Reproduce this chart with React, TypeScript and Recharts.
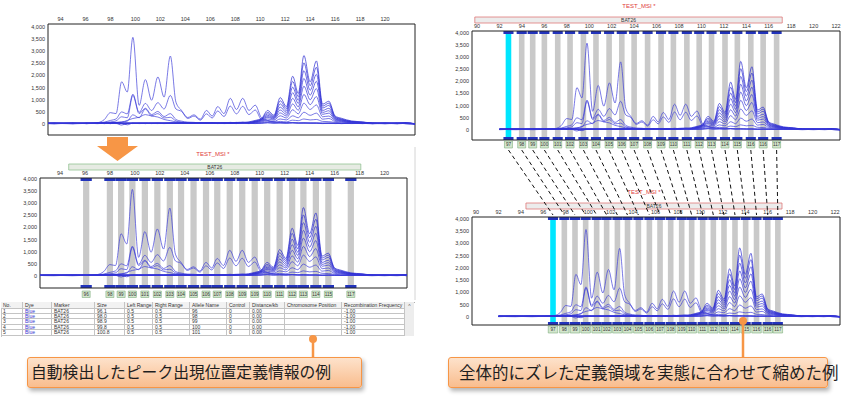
import React from "react";
import { LineChart, Line, XAxis, YAxis, ReferenceArea } from "recharts";

// fragment size (bp) of every sample point of the traces
const sizes = [92, 93.5, 95, 96.1, 97, 97.5, 98, 98.45, 98.9, 99.35, 99.8, 100.3, 100.8, 101.3, 101.8, 102.3, 102.8, 103.25, 103.7, 104.2, 104.7, 105.2, 105.7, 106.15, 106.6, 107.1, 107.6, 108.1, 108.6, 109.1, 109.6, 110.1, 110.6, 111.1, 111.6, 112.1, 112.6, 113.05, 113.5, 114, 114.5, 115, 115.5, 116, 116.5, 117.3, 118.2, 119, 120, 121, 121.6, 122.5];

// left group of samples (stutter around 99-103)
const traceA = [30, 10, 40, 20, 60, 180, 470, 430, 1740, 1320, 3570, 770, 1830, 980, 1940, 1110, 2800, 900, 560, 270, 380, 200, 560, 330, 720, 430, 1060, 600, 1060, 560, 780, 260, 150, 90, 70, 60, 50, 40, 60, 40, 50, 40, 30, 30, 40, 20, 30, 10, 30, 20, 60, -20];
const traceB = [20, 40, 30, 40, 50, 80, 150, 210, 500, 420, 1230, 480, 850, 560, 880, 620, 1180, 620, 520, 230, 330, 160, 420, 250, 540, 310, 740, 420, 730, 390, 580, 180, 120, 80, 60, 50, 60, 40, 50, 30, 40, 30, 40, 20, 30, 40, 20, 30, 10, 40, 50, 0];
const traceC = [10, 30, 20, 30, 40, 60, 90, 130, 300, 260, 1180, 430, 650, 390, 520, 310, 430, 190, 120, 80, 70, 50, 60, 40, 50, 30, 40, 30, 50, 40, 30, 40, 50, 30, 40, 30, 50, 40, 30, 40, 30, 20, 30, 40, 20, 30, 40, 20, 30, 10, 30, 10];
const traceD = [40, 20, 30, 20, 30, 40, 60, 70, 90, 120, 380, 260, 620, 340, 430, 250, 280, 130, 80, 60, 40, 50, 30, 40, 20, 40, 30, 40, 30, 20, 40, 30, 60, 40, 50, 40, 60, 50, 40, 50, 40, 30, 40, 30, 20, 30, 20, 40, 20, 30, 40, 20];
const traceE = [20, 30, 10, 30, 20, 30, 50, 60, 80, 150, 230, 280, 390, 330, 290, 190, 140, 90, 70, 50, 40, 30, 40, 30, 40, 20, 30, 20, 40, 30, 20, 50, 80, 70, 110, 90, 160, 140, 210, 170, 190, 110, 100, 70, 50, 40, 30, 20, 40, 30, 20, 0];

// right group of samples (peaks around 111-115)
const traceR1 = [40, 30, 50, 20, 40, 30, 50, 30, -40, 20, 30, 40, 20, 40, 30, 40, 50, 30, 40, 30, 50, 40, 30, 50, 40, 60, 50, 70, 60, 90, 150, 230, 560, 360, 1090, 720, 1970, 1260, 2820, 1740, 2600, 820, 940, 330, 240, 130, 90, 40, 30, 50, 20, 0];
const traceR2 = [20, 50, 30, 40, 30, 40, 20, 50, 30, -30, 40, 30, 50, 30, 40, 30, 40, 50, 30, 50, 30, 50, 40, 60, 30, 50, 40, 60, 80, 70, 130, 210, 480, 320, 960, 640, 1760, 1120, 2520, 1580, 2340, 740, 860, 300, 210, 110, 70, 50, 40, 30, 50, 10];
const traceR3 = [30, 40, 20, 50, 40, 20, 40, 60, 30, 40, 20, 50, 40, 30, 50, 40, 30, 40, 50, 40, 40, 30, 50, 40, 50, 40, 70, 50, 60, 60, 110, 190, 420, 290, 830, 560, 1520, 980, 2200, 1390, 2050, 660, 770, 270, 190, 100, 80, 30, 50, 40, 30, 20];
const traceR4 = [50, 20, 40, 30, 20, 50, 30, 40, 50, 30, 40, 20, 30, 50, 40, 50, 40, 30, 40, 30, 30, 40, 50, 30, 40, 50, 30, 40, 70, 50, 100, 170, 360, 260, 700, 480, 1290, 850, 1880, 1190, 1760, 560, 650, 240, 170, 90, 60, 40, 30, 20, 40, 10];
const traceR5 = [30, 30, 40, 40, 30, 40, 40, 20, 30, 50, 30, 30, 40, 20, 40, 30, 50, 40, 30, 50, 40, 50, 30, 40, 30, 40, 50, 60, 40, 70, 90, 150, 310, 230, 580, 400, 1060, 710, 1560, 1000, 1460, 480, 550, 210, 150, 80, 50, 30, 40, 30, 30, 20];
const traceR6 = [40, 20, 30, 30, 50, 30, 20, 40, 40, 20, 50, 40, 30, 40, 30, 20, 30, 40, 50, 30, 40, 30, 40, 50, 40, 30, 40, 50, 50, 60, 80, 130, 270, 200, 460, 330, 830, 570, 1220, 800, 1130, 400, 450, 180, 130, 70, 60, 40, 20, 40, 20, 0];
const traceR7 = [20, 40, 40, 20, 30, 30, 50, 30, 20, 40, 40, 30, 50, 30, 20, 40, 30, 30, 40, 50, 30, 40, 40, 30, 50, 40, 40, 30, 60, 40, 70, 100, 210, 160, 340, 250, 590, 420, 860, 600, 790, 300, 330, 150, 110, 60, 50, 30, 30, 20, 40, 10];
const traceR8 = [30, 30, 20, 40, 40, 20, 30, 40, 40, 30, 30, 40, 20, 40, 40, 30, 40, 50, 30, 40, 50, 30, 40, 40, 30, 50, 40, 40, 50, 50, 60, 80, 140, 110, 210, 170, 340, 260, 490, 360, 450, 200, 230, 110, 90, 50, 40, 20, 40, 30, 20, 10];

const leftTicks = [94, 96, 98, 100, 102, 104, 106, 108, 110, 112, 114, 116, 118, 120];
const rightTicks = [90, 92, 94, 96, 98, 100, 102, 104, 106, 108, 110, 112, 114, 116, 118, 120, 122];
const yTicks = [0, 500, 1000, 1500, 2000, 2500, 3000, 3500, 4000];

// automatically detected bins (middle left)
const autoBins = [96.1, 98.0, 98.9, 99.8, 100.8, 101.8, 102.8, 103.7, 104.7, 105.7, 106.6, 107.6, 108.6, 109.6, 110.6, 111.6, 112.6, 113.5, 114.5, 115.5, 117.3];
const autoLabels = ["96", "98", "99", "100", "101", "102", "103", "104", "105", "106", "107", "108", "109", "109", "110", "111", "112", "113", "114", "115", "117"];

// shifted bins (top right) and shrunk bins (bottom right); the first one is the highlighted bin
const shiftedBins = [92.8, 93.98, 94.96, 96.0, 97.19, 98.29, 99.48, 100.6, 101.77, 102.9, 104.0, 105.2, 106.4, 107.5, 108.7, 109.8, 110.9, 112.1, 113.2, 114.4, 115.5, 116.7];
const fittedBins = [96.86, 97.87, 98.82, 99.77, 100.75, 101.64, 102.6, 103.5, 104.47, 105.45, 106.4, 107.35, 108.33, 109.22, 110.2, 111.15, 112.1, 113.08, 114.03, 115.0, 116.0, 116.9];
const binLabels = ["97", "98", "99", "100", "101", "102", "103", "104", "105", "106", "107", "108", "109", "110", "111", "112", "113", "114", "115", "116", "116", "117"];

const tableHeaders = ["No.", "Dye", "Marker", "Size", "Left Range", "Right Range", "Allele Name", "Control", "Distance/kb", "Chromosome Position", "Recombination Frequency"];
const tableNo = ["1", "2", "3", "4", "5"];
const tableSize = ["96.1", "98.0", "98.9", "99.8", "100.8"];
const tableAllele = ["96", "98", "99", "100", "101"];

const traces = [
  { key: "a", values: traceA, color: "#3a3ad8" },
  { key: "b", values: traceB, color: "#3a3ad8" },
  { key: "c", values: traceC, color: "#3a3ad8" },
  { key: "d", values: traceD, color: "#3a3ad8" },
  { key: "e", values: traceE, color: "#3a3ad8" },
  { key: "r1", values: traceR1, color: "#2222d0" },
  { key: "r2", values: traceR2, color: "#2222d0" },
  { key: "r3", values: traceR3, color: "#2a2ad4" },
  { key: "r4", values: traceR4, color: "#2a2ad4" },
  { key: "r5", values: traceR5, color: "#3030d6" },
  { key: "r6", values: traceR6, color: "#3030d6" },
  { key: "r7", values: traceR7, color: "#3838d8" },
  { key: "r8", values: traceR8, color: "#3838d8" },
];

const rows = sizes.map((s, i) => {
  const r: Record<string, number> = { size: s };
  traces.forEach((t) => (r[t.key] = t.values[i]));
  return r;
});

type Panel = {
  x: number; y: number; w: number; h: number;
  xDomain: [number, number]; yDomain: [number, number];
  xTicks: number[];
  bins?: number[]; labels?: string[]; cyan?: boolean;
  marker?: [number, number]; markerFill?: string; markerStroke?: string;
  labelGap?: number; labelW?: number; labelH?: number;
};

const topLeft: Panel = { x: 48, y: 24, w: 367, h: 111, xDomain: [93.0, 122.4], yDomain: [-450, 4120], xTicks: leftTicks };
const midLeft: Panel = {
  x: 40, y: 178, w: 367, h: 110, xDomain: [92.4, 121.8], yDomain: [-495, 4040], xTicks: leftTicks,
  bins: autoBins, labels: autoLabels, marker: [94.7, 118.1], markerFill: "#e6ebe3", markerStroke: "#93c393",
  labelGap: 3, labelW: 8, labelH: 6.5,
};
const topRight: Panel = {
  x: 472, y: 31, w: 368, h: 109, xDomain: [89.55, 122.35], yDomain: [-412, 4070], xTicks: rightTicks,
  bins: shiftedBins, labels: binLabels, cyan: true, marker: [89.8, 117.2], markerFill: "#ececec", markerStroke: "#e07878",
  labelGap: 1, labelW: 8, labelH: 7,
};
const bottomRight: Panel = {
  x: 472, y: 217, w: 368, h: 108, xDomain: [89.64, 122.44], yDomain: [-327, 4082], xTicks: rightTicks,
  bins: fittedBins, labels: binLabels, cyan: true, marker: [94.45, 117.27], markerFill: "#ececec", markerStroke: "#e07878",
  labelGap: 1, labelW: 9.5, labelH: 7,
};

const toPx = (p: Panel, v: number) => p.x + ((v - p.xDomain[0]) / (p.xDomain[1] - p.xDomain[0])) * p.w;
const fmt = (v: number) => v.toLocaleString("en-US");

function Trace({ p }: { p: Panel }) {
  // outer margins around the plot box; axes take AX / AY of them
  const ML = 40, MT = 30, MR = 6, MB = 16, AX = 12, AY = 30;
  const unit = (p.yDomain[1] - p.yDomain[0]) / p.h;
  const xUnit = (p.xDomain[1] - p.xDomain[0]) / p.w;
  const top = p.yDomain[1];
  const bot = p.yDomain[0];
  const bins = p.bins || [];
  const tickStyle = { fontSize: 5.5, fill: "#333" };
  const lw = (p.labelW || 8) * xUnit;
  const gap = p.labelGap || 0;
  const lh = p.labelH || 7;
  return (
    <div style={{ position: "absolute", left: p.x - ML, top: p.y - MT }}>
      <LineChart width={p.w + ML + MR} height={p.h + MT + MB} data={rows}
        margin={{ top: MT - AX, left: ML - AY, right: MR, bottom: MB }}>
        <XAxis dataKey="size" type="number" orientation="top" domain={p.xDomain} allowDataOverflow ticks={p.xTicks} interval={0}
          axisLine={false} tickLine={false} tickSize={0} tickMargin={3} height={AX} tick={tickStyle} />
        <YAxis type="number" domain={p.yDomain} allowDataOverflow ticks={yTicks} interval={0} width={AY}
          axisLine={false} tickLine={false} tickSize={0} tickMargin={3} tickFormatter={fmt} tick={tickStyle} />
        {bins.map((b, i) => (
          <ReferenceArea key={"bin" + i} x1={b - 0.25} x2={b + 0.25} y1={bot} y2={top}
            fill={p.cyan && i === 0 ? "#00e6ff" : "#c9c9c9"} fillOpacity={1} stroke="none" ifOverflow="hidden" />
        ))}
        {bins.map((b, i) => (
          <ReferenceArea key={"capT" + i} x1={b - 0.45} x2={b + 0.45} y1={top - 3 * unit} y2={top}
            fill="#2233bb" fillOpacity={1} stroke="none" ifOverflow="hidden" />
        ))}
        {bins.map((b, i) => (
          <ReferenceArea key={"capB" + i} x1={b - 0.45} x2={b + 0.45} y1={bot} y2={bot + 3 * unit}
            fill="#2233bb" fillOpacity={1} stroke="none" ifOverflow="hidden" />
        ))}
        {traces.map((t) => (
          <Line key={t.key} dataKey={t.key} type="monotone" stroke={t.color} strokeWidth={0.8} strokeOpacity={0.85}
            dot={false} activeDot={false} isAnimationActive={false} />
        ))}
        <ReferenceArea x1={p.xDomain[0]} x2={p.xDomain[1]} y1={bot} y2={top} fill="none" stroke="#222" strokeWidth={1} ifOverflow="visible" />
        {p.labels && bins.map((b, i) => (
          <ReferenceArea key={"lab" + i} x1={b - lw / 2} x2={b + lw / 2} y1={bot - (gap + lh) * unit} y2={bot - gap * unit}
            fill="#d3e6cd" fillOpacity={1} stroke="#7faf7f" strokeWidth={0.6} ifOverflow="visible"
            label={{ value: p.labels![i], position: "center", fontSize: 4.6, fill: "#333" }} />
        ))}
        {p.marker && (
          <ReferenceArea x1={p.marker[0]} x2={p.marker[1]} y1={top + 8 * unit} y2={top + 14 * unit}
            fill={p.markerFill} fillOpacity={1} stroke={p.markerStroke} strokeWidth={0.8} ifOverflow="visible"
            label={{ value: "BAT26", position: "center", fontSize: 5, fill: "#333" }} />
        )}
      </LineChart>
    </div>
  );
}

const colEdges = [1, 23, 52, 95, 125, 153, 190, 227, 250, 285, 342, 405];

function AlleleTable() {
  const headerTop = 301.5;
  const headerH = 7;
  const rowH = 5.45;
  const cells: React.ReactNode[] = [];
  const cellStyle = (l: number, r: number, t: number, h: number): React.CSSProperties => ({
    position: "absolute", left: l, top: t, width: r - l, height: h, boxSizing: "border-box",
    borderRight: "0.5px solid #c4c4c4", borderBottom: "0.5px solid #c4c4c4",
    fontSize: 5, lineHeight: h + "px", paddingLeft: 2, whiteSpace: "nowrap", overflow: "hidden", color: "#333",
  });
  tableHeaders.forEach((hd, c) => {
    cells.push(
      <div key={"h" + c} style={{ ...cellStyle(colEdges[c], colEdges[c + 1], headerTop, headerH), background: "#f2f2f2" }}>{hd}</div>
    );
  });
  tableNo.forEach((no, r) => {
    const vals = [no, "Blue", "BAT26", tableSize[r], "0.5", "0.5", tableAllele[r], "0", "0.00", "", "-1.00"];
    vals.forEach((v, c) => {
      cells.push(
        <div key={"r" + r + "c" + c} style={{ ...cellStyle(colEdges[c], colEdges[c + 1], headerTop + headerH + r * rowH, rowH), color: c === 1 ? "#3535d0" : "#333" }}>{v}</div>
      );
    });
  });
  return (
    <div style={{ position: "absolute", left: 0, top: 0 }}>
      <div style={{ position: "absolute", left: colEdges[0], top: headerTop, width: 413, height: headerH + 5 * rowH, borderTop: "0.5px solid #b0b0b0", borderLeft: "0.5px solid #c4c4c4", background: "#fff" }} />
      {cells}
      <div style={{ position: "absolute", left: 405, top: headerTop, width: 9, height: headerH + 5 * rowH, background: "#ededed", fontSize: 5, textAlign: "center", lineHeight: "8px", color: "#555" }}>^</div>
    </div>
  );
}

function Callout({ left, top, width, height, text, fontSize, pad }: { left: number; top: number; width: number; height: number; text: string; fontSize: number; pad: number }) {
  return (
    <div style={{
      position: "absolute", left, top, width, height, boxSizing: "border-box",
      background: "linear-gradient(#fde2cb, #f9bd8e)", border: "1.5px solid #f79646", borderRadius: 3,
      boxShadow: "2px 3px 4px rgba(0,0,0,0.3)", fontFamily: "'Noto Sans CJK JP', sans-serif",
      fontSize, lineHeight: height - 3 + "px", paddingLeft: pad, color: "#1e1e1e", whiteSpace: "nowrap",
    }}>{text}</div>
  );
}

export default function App() {
  const shiftAll = shiftedBins.map((b) => toPx(topRight, b));
  const fitAll = fittedBins.map((b) => toPx(bottomRight, b));
  return (
    <div style={{ position: "absolute", left: 0, top: 0, width: 847, height: 399, background: "#fff", overflow: "hidden", fontFamily: "'Liberation Sans', Arial, sans-serif" }}>
      <Trace p={topLeft} />
      <Trace p={midLeft} />
      <Trace p={topRight} />
      <Trace p={bottomRight} />

      <div style={{ position: "absolute", left: 183, top: 151, width: 60, textAlign: "center", fontSize: 6, color: "#e03a3a" }}>TEST_MSI *</div>
      <div style={{ position: "absolute", left: 609, top: 3, width: 60, textAlign: "center", fontSize: 6, color: "#e03a3a" }}>TEST_MSI *</div>
      <div style={{ position: "absolute", left: 614, top: 189, width: 60, textAlign: "center", fontSize: 6, color: "#e03a3a" }}>TEST_MSI *</div>

      <AlleleTable />

      <svg width={847} height={399} style={{ position: "absolute", left: 0, top: 0, pointerEvents: "none" }}>
        <line x1={415} y1={147} x2={415} y2={300} stroke="#d4d4d4" strokeWidth={1} />
        <polygon points="107,137 128,137 128,146 138,146 117.5,161 97,146 107,146" fill="#f79646" />
        {shiftAll.map((x1, i) => (
          <line key={i} x1={x1} y1={150} x2={fitAll[i]} y2={215} stroke="#111" strokeWidth={1} strokeDasharray="4 3" />
        ))}
        <line x1={313} y1={339} x2={313} y2={358} stroke="#f79646" strokeWidth={2.5} />
        <circle cx={313} cy={339} r={4} fill="#f79646" />
        <line x1={743} y1={321} x2={743} y2={358} stroke="#f79646" strokeWidth={2.5} />
        <circle cx={743} cy={321} r={4} fill="#f79646" />
      </svg>

      <Callout left={27} top={357} width={335} height={31} text="自動検出したピーク出現位置定義情報の例" fontSize={15.8} pad={3} />
      <Callout left={448} top={357} width={380} height={31} text="全体的にズレた定義領域を実態に合わせて縮めた例" fontSize={16.5} pad={10} />
    </div>
  );
}
